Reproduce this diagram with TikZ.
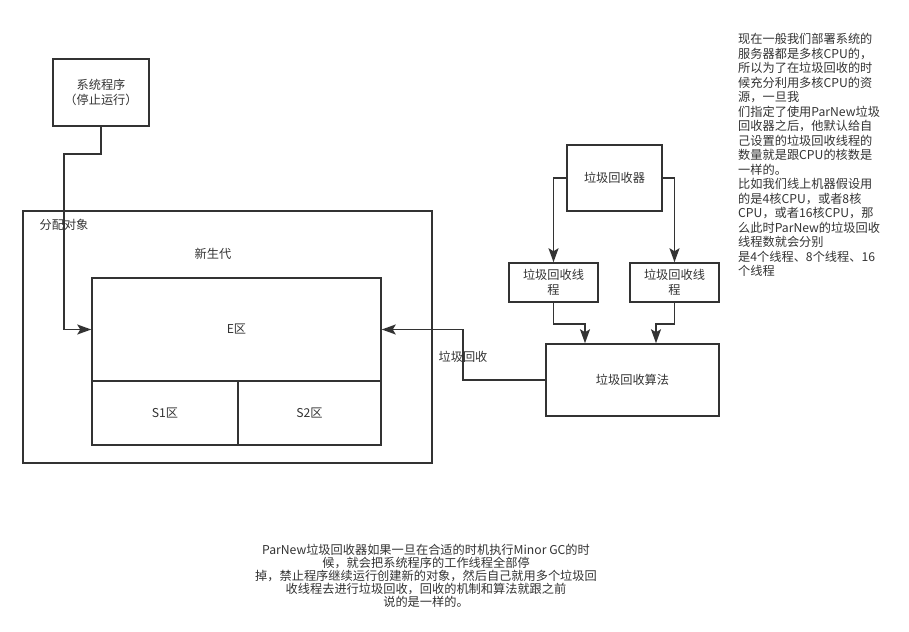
\documentclass[tikz,border=0pt]{standalone}
\usepackage{fontspec}
\setmainfont{Noto Sans CJK SC}
\usepackage{tikz}
\usetikzlibrary{arrows.meta}
\definecolor{linegray}{HTML}{333333}
\definecolor{textgray}{HTML}{333333}
\tikzset{
	box/.style={draw=linegray, line width=1.5pt, rectangle, inner sep=0pt, align=center, text=textgray},
	conn/.style={draw=linegray, line width=1.5pt, arrows={-Stealth[length=14pt,width=10pt,inset=3pt]}},
	note/.style={text=textgray, inner sep=0pt}
}
\begin{document}
\begin{tikzpicture}[x=1pt,y=-1pt,font=\fontsize{12.2}{14.5}\selectfont]
				\useasboundingbox (0,0) rectangle (909,631);
				\node[box, minimum width=96, minimum height=67] (prog) at (101,92.5) {系统程序\\（停止运行）};
				\node[box, minimum width=409, minimum height=252] (young) at (227.5,337) {};
				\node[note] (youngl) at (213,254) {新生代};
				\node[box, minimum width=289, minimum height=103] (eden) at (236.5,329.5) {E区};
				\node[box, minimum width=146, minimum height=64] (sone) at (165,413) {S1区};
				\node[box, minimum width=143, minimum height=64] (stwo) at (309.5,413) {S2区};
				\node[box, minimum width=95, minimum height=66] (gc) at (614.5,178) {垃圾回收器};
				\node[box, minimum width=89, minimum height=39] (tone) at (553.5,282.5) {垃圾回收线\\程};
				\node[box, minimum width=89, minimum height=39] (ttwo) at (674.5,282.5) {垃圾回收线\\程};
				\node[box, minimum width=173, minimum height=72] (alg) at (632.5,380) {垃圾回收算法};
				\draw[conn] (prog.south) -- (101,154) -- (64,154) |- (eden.west);
				\node[note] (alloc) at (64,225) {分配对象};
				\draw[conn] (gc.west) -| (tone.north);
				\draw[conn] (gc.east) -| (ttwo.north);
				\draw[conn] (tone.south) -- ++(0,21) -| ([xshift=-47.5]alg.north);
				\draw[conn] (ttwo.south) -- ++(0,21) -| ([xshift=23.5]alg.north);
				\draw[conn] (alg.west) -- (463,380) |- (eden.east);
				\node[note] (gcl) at (463,357) {垃圾回收};
				\node[note, anchor=north west, align=left] (side) at (738,33.5) {现在一般我们部署系统的\\服务器都是多核CPU的，\\所以为了在垃圾回收的时\\候充分利用多核CPU的资\\源，一旦我\\们指定了使用ParNew垃圾\\回收器之后，他默认给自\\己设置的垃圾回收线程的\\数量就是跟CPU的核数是\\一样的。\\比如我们线上机器假设用\\的是4核CPU，或者8核\\CPU，或者16核CPU，那\\么此时ParNew的垃圾回收\\线程数就会分别\\是4个线程、8个线程、16\\个线程};
				\node[note, align=center, font=\fontsize{12.2}{13}\selectfont] (bottom) at (426,576) {ParNew垃圾回收器如果一旦在合适的时机执行Minor GC的时\\候，就会把系统程序的工作线程全部停\\掉，禁止程序继续运行创建新的对象，然后自己就用多个垃圾回\\收线程去进行垃圾回收，回收的机制和算法就跟之前\\说的是一样的。};
				\end{tikzpicture}
\end{document}
